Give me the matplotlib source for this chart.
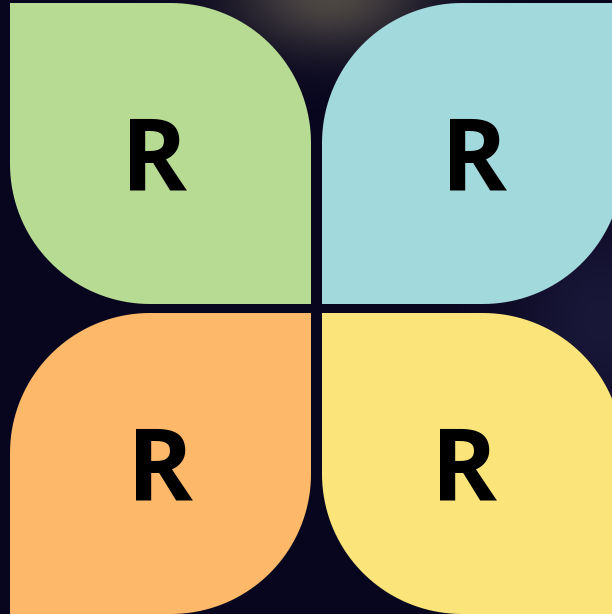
import numpy as np
import matplotlib.pyplot as plt
from matplotlib.path import Path
from matplotlib.patches import PathPatch

# ------------------------------
# Data
# ------------------------------
labels = ['R', 'R', 'R', 'R']
colors = ['#B8DB93', '#A2D9DD', '#FDB969', '#FBE47A']
# which corners are rounded per leaf (tl, tr, br, bl)
rounded = [
    (False, True, False, True),
    (True, False, True, False),
    (True, False, True, False),
    (False, True, False, True),
]

W, H = 612, 614


def leaf_path(x0, y0, x1, y1, r, corners):
    """Rectangle (y down) with selected corners rounded by radius r"""
    tl, tr, br, bl = corners
    pts = []

    def arc(cx, cy, a0, a1):
        t = np.linspace(np.radians(a0), np.radians(a1), 40)
        return list(zip(cx + r * np.cos(t), cy + r * np.sin(t)))

    pts += arc(x0 + r, y0 + r, 180, 270) if tl else [(x0, y0)]
    pts += arc(x1 - r, y0 + r, 270, 360) if tr else [(x1, y0)]
    pts += arc(x1 - r, y1 - r, 0, 90) if br else [(x1, y1)]
    pts += arc(x0 + r, y1 - r, 90, 180) if bl else [(x0, y1)]
    pts.append(pts[0])
    codes = [Path.MOVETO] + [Path.LINETO] * (len(pts) - 2) + [Path.CLOSEPOLY]
    return Path(pts, codes)


fig = plt.figure(figsize=(W / 100, H / 100), dpi=100)
ax = fig.add_axes([0, 0, 1, 1])
ax.set_xlim(0, W)
ax.set_ylim(H, 0)
ax.axis('off')

# background: dark navy with a soft grey glow at the top and lighter patch on the right
yy, xx = np.mgrid[0:H, 0:W]
base = np.array([8, 6, 31]) / 255.0
img = np.ones((H, W, 3)) * base
glow = np.exp(-(((xx - 330) / 95.0) ** 2 + ((yy + 5) / 55.0) ** 2))
img += glow[..., None] * (np.array([78, 72, 68]) / 255.0 - base)
side = np.exp(-(((xx - 600) / 90.0) ** 2 + ((yy - 320) / 110.0) ** 2))
img += side[..., None] * (np.array([30, 28, 62]) / 255.0 - base) * 0.8
ax.imshow(np.clip(img, 0, 1), extent=[0, W, H, 0], zorder=0, interpolation='bilinear')

size = 301
r = 140
origins = [(10, 3), (322, 3), (10, 313), (322, 313)]
text_offsets = [(-6, 11), (2, 11), (0, 10), (-8, 10)]

for (x0, y0), col, corners, lab, (dx, dy) in zip(origins, colors, rounded, labels, text_offsets):
    p = leaf_path(x0, y0, x0 + size, y0 + size, r, corners)
    ax.add_patch(PathPatch(p, facecolor=col, edgecolor='none', zorder=2))
    ax.text(x0 + size / 2 + dx, y0 + size / 2 + dy, lab, fontsize=72,
            fontweight='bold', family='Open Sans', color='black',
            ha='center', va='center', zorder=3)

plt.savefig('out.png', dpi=100)
